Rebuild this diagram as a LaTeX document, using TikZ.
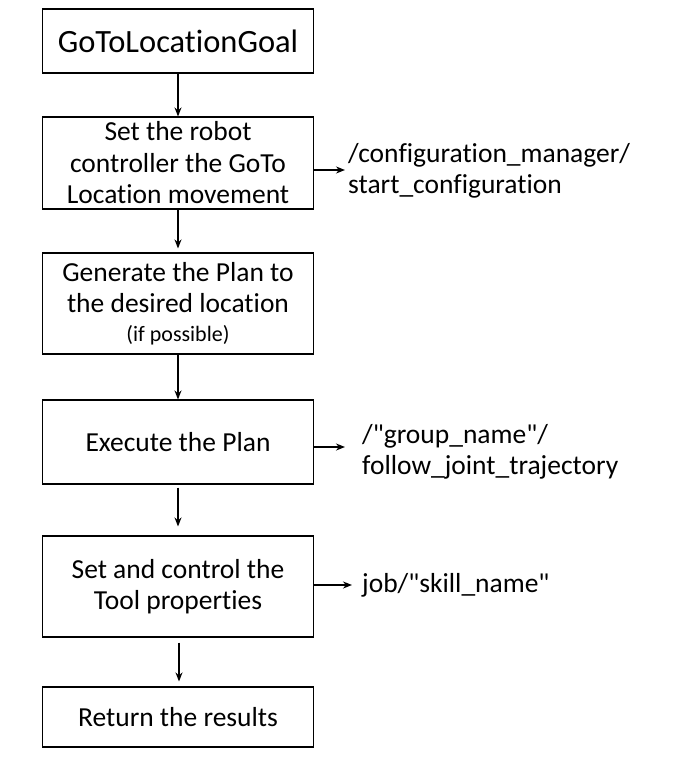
\documentclass[tikz,border=0pt]{standalone}
\usepackage{fontspec}
\setmainfont{Carlito}[Ligatures={NoCommon}]
\usepackage{tikz}
\usetikzlibrary{arrows.meta}

\begin{document}
\begin{tikzpicture}[x=1pt,y=-1pt,>={Stealth[length=9pt,width=7pt]}]
 \tikzstyle{stepbox} = [draw=black,line width=1.1pt,minimum width=271pt,inner sep=0pt,align=center,
   font=\fontsize{27.5}{31.5}\selectfont]
 \tikzstyle{topic} = [anchor=west,inner sep=0pt,align=left,font=\fontsize{27.5}{31}\selectfont]
 \tikzstyle{flow} = [->,line width=1.6pt]

 \useasboundingbox (0,0) rectangle (673,773);

% Steps
 \node[stepbox,minimum height=64pt,font=\fontsize{32.5}{36}\selectfont] (n1) at (178,41) {GoToLocationGoal};
 \node[stepbox,minimum height=92pt] (n2) at (178,163) {Set the robot\\controller the GoTo\\Location movement};
 \node[stepbox,minimum height=101pt] (n3) at (178,303.5)
   {Generate the Plan to\\the desired location\\[-3pt]{\fontsize{22}{24}\selectfont (if possible)}};
 \node[stepbox,minimum height=84pt] (n4) at (178,442) {Execute the Plan};
 \node[stepbox,minimum height=101pt] (n5) at (178,586.5) {Set and control the\\Tool properties};
 \node[stepbox,minimum height=60pt] (n6) at (178,717) {Return the results};

% Topics / actions
 \node[topic] (t2) at (348,171) {/configuration\_manager/\\start\_configuration};
 \node[topic] (t4) at (362,452) {/\textquotedbl group\_name\textquotedbl/\\follow\_joint\_trajectory};
 \node[topic] (t5) at (362,585) {job/\textquotedbl skill\_name\textquotedbl};

% Flow
 \draw[flow] (n1) -- (n2);
 \draw[flow,shorten >=4pt] (n2) -- (n3);
 \draw[flow] (n3) -- (n4);
 \draw[flow,shorten <=3pt,shorten >=9pt] (n4) -- (n5);
 \draw[flow,shorten <=5pt,shorten >=5pt] (n5.south -| 179,0) -- (n6.north -| 179,0);

 \draw[flow,shorten >=3pt] (n2.east |- 0,170) -- (t2.west |- 0,170);
 \draw[flow,shorten >=17pt] (n4.east |- 0,447) -- (t4.west |- 0,447);
 \draw[flow,shorten >=10pt] (n5.east |- 0,585) -- (t5.west |- 0,585);

\end{tikzpicture}
\end{document}
